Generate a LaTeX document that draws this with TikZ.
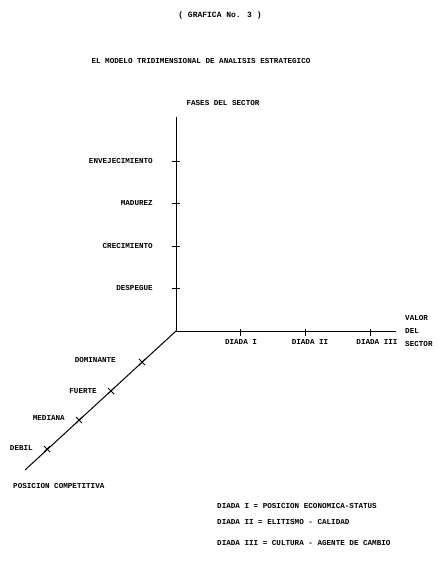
\documentclass[tikz,border=0pt]{standalone}
\usepackage{fontspec}
\setmainfont{Liberation Mono}
\begin{document}
\begin{tikzpicture}[x=1pt,y=-1pt,
  txt/.style={inner sep=0pt, font=\fontsize{7.6}{9}\selectfont\bfseries},
  axisline/.style={line width=1pt, black},
  tickline/.style={line width=1pt, black}]
\useasboundingbox[fill=white] (0,0) rectangle (442,562);
% titles
\node[txt, font=\fontsize{8}{9}\selectfont\bfseries] (title) at (220,15) {( GRAFICA No. 3 )};
\node[txt] (subtitle) at (201,61) {EL MODELO TRIDIMENSIONAL DE ANALISIS ESTRATEGICO};
% axes
\coordinate (O) at (176,331);
\coordinate (top) at (176,117);
\coordinate (right) at (396,331);
\coordinate (diag) at (25,470);
\draw[axisline] (O) -- (top);
\draw[axisline] (O) -- (right);
\draw[axisline] (O) -- (diag);
\node[txt] (fases) at (223,103) {FASES DEL SECTOR};
% vertical ticks
\foreach \n/\y in {v1/161,v2/203,v3/246,v4/288}{
  \coordinate (\n) at (176,\y);
  \draw[tickline] ([xshift=-4pt]\n) -- ([xshift=4pt]\n);
}
\node[txt, anchor=east] (env) at (153,161) {ENVEJECIMIENTO};
\node[txt, anchor=east] (mad) at (153,203) {MADUREZ};
\node[txt, anchor=east] (cre) at (153,246) {CRECIMIENTO};
\node[txt, anchor=east] (des) at (153,288) {DESPEGUE};
% horizontal ticks
\foreach \n/\x in {h1/240,h2/305,h3/370}{
  \coordinate (\n) at (\x,331);
  \draw[tickline] ([yshift=-4.5pt]\n) -- ([yshift=2pt]\n);
}
\node[txt] (d1) at (241,342) {DIADA I};
\node[txt] (d2) at (310,342) {DIADA II};
\node[txt] (d3) at (377,342) {DIADA III};
\node[txt, anchor=west] (valor) at (405,318) {VALOR};
\node[txt, anchor=west] (del) at (405,331) {DEL};
\node[txt, anchor=west] (sector) at (405,344) {SECTOR};
% diagonal ticks (x marks)
\foreach \n/\x/\y in {p1/142/362,p2/111/391,p3/79/420,p4/47/449}{
  \coordinate (\n) at (\x,\y);
  \draw[tickline] ([shift={(-3,-3)}]\n) -- ([shift={(3,3)}]\n);
  \draw[tickline] ([shift={(-3,3)}]\n) -- ([shift={(3,-3)}]\n);
}
\node[txt, anchor=east] (dom) at (116,360) {DOMINANTE};
\node[txt, anchor=east] (fue) at (97,391) {FUERTE};
\node[txt, anchor=east] (med) at (65,418) {MEDIANA};
\node[txt, anchor=east] (deb) at (33,448) {DEBIL};
\node[txt, anchor=west] (pos) at (13,486) {POSICION COMPETITIVA};
% legend
\node[txt, anchor=west] (l1) at (217,506) {DIADA I = POSICION ECONOMICA-STATUS};
\node[txt, anchor=west] (l2) at (217,522) {DIADA II = ELITISMO - CALIDAD};
\node[txt, anchor=west] (l3) at (217,543) {DIADA III = CULTURA - AGENTE DE CAMBIO};
\end{tikzpicture}
\end{document}
